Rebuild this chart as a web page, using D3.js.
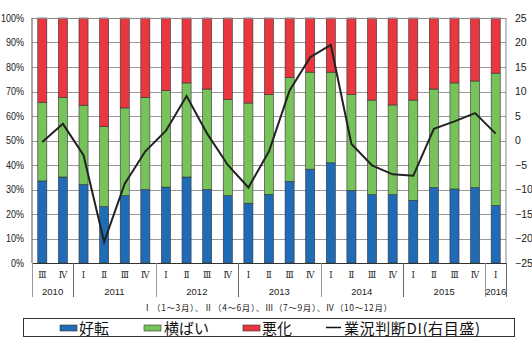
<!DOCTYPE html>
<html><head><meta charset="utf-8">
<script src="https://cdn.jsdelivr.net/npm/d3@7"></script>
<style>
html,body{margin:0;padding:0;background:#fff;}
svg{display:block;}
</style>
</head><body>
<svg id="chart" width="532" height="350"></svg>
<script>
// ---- data ----
const quarters = ["Ⅲ","Ⅳ","Ⅰ","Ⅱ","Ⅲ","Ⅳ","Ⅰ","Ⅱ","Ⅲ","Ⅳ","Ⅰ","Ⅱ","Ⅲ","Ⅳ","Ⅰ","Ⅱ","Ⅲ","Ⅳ","Ⅰ","Ⅱ","Ⅲ","Ⅳ","Ⅰ"];
const yearLabels = ["2010","2011","2012","2013","2014","2015","2016"];
const yearCounts = [2,4,4,4,4,4,1];
const improved = [33.5,35.1,32.0,23.0,27.5,30.0,31.0,35.1,30.0,27.5,24.4,28.0,33.3,38.3,40.9,29.6,27.9,27.9,25.6,30.8,30.2,30.8,23.5];
const flat     = [32.1,32.5,32.4,32.7,35.8,37.6,39.4,38.4,41.0,39.3,40.9,40.8,42.4,39.6,37.0,39.2,38.6,36.6,40.9,40.2,43.3,43.5,54.0];
const worse    = improved.map((v,i)=> +(100 - v - flat[i]).toFixed(1));
const di       = [-0.3,3.4,-3.0,-20.7,-8.8,-2.2,2.0,9.1,1.4,-5.0,-9.6,-2.2,10.2,17.0,19.5,-0.7,-5.1,-6.9,-7.2,2.4,3.9,5.6,1.4];
const leftTicks = [0,10,20,30,40,50,60,70,80,90,100];
const rightTicks = [-25,-20,-15,-10,-5,0,5,10,15,20,25];
const seriesNames = ["好転","横ばい","悪化"];
const lineName = "業況判断DI(右目盛)";
const noteText = "Ⅰ（1～3月）、Ⅱ（4～6月）、Ⅲ（7～9月）、Ⅳ（10～12月）";
const colors = ["#1f6bb6","#78c25c","#e8373f"];

// ---- layout ----
const L = 32, R = 506, T = 18, B = 263;
const svg = d3.select("#chart");
const idx = d3.range(quarters.length);
const x = d3.scaleBand().domain(idx).range([L, R]).paddingInner(0.56).paddingOuter(0.28);
const step = x.step();
const yL = d3.scaleLinear().domain([0,100]).range([B, T]);
const yR = d3.scaleLinear().domain([-25,25]).range([B, T]);
const numFont = "'Liberation Sans', Arial, sans-serif";
const cjk = "'Noto Sans CJK JP', 'Noto Sans CJK SC', sans-serif";

// gridlines
svg.append("g").selectAll("line").data(leftTicks.filter(d=>d>0)).join("line")
  .attr("x1", L).attr("x2", R)
  .attr("y1", d=>Math.round(yL(d))+0.5).attr("y2", d=>Math.round(yL(d))+0.5)
  .attr("stroke", "#9a9a9a").attr("stroke-width", 1);

// bars
const stackData = idx.map(i => ({i, a: improved[i], b: flat[i], c: worse[i]}));
const stack = d3.stack().keys(["a","b","c"])(stackData);
svg.append("g").selectAll("g").data(stack).join("g")
  .attr("fill", (d,k)=>colors[k])
  .selectAll("rect").data(d=>d).join("rect")
  .attr("x", d=>x(d.data.i))
  .attr("width", x.bandwidth())
  .attr("y", d=>yL(d[1]))
  .attr("height", d=>yL(d[0]) - yL(d[1]))
  .attr("stroke", "#333").attr("stroke-width", 0.6);

// frame
svg.append("line").attr("x1", L).attr("x2", L).attr("y1", T).attr("y2", B).attr("stroke", "#555");
svg.append("line").attr("x1", R).attr("x2", R).attr("y1", T).attr("y2", B).attr("stroke", "#888");
svg.append("line").attr("x1", L).attr("x2", R).attr("y1", T+0.5).attr("y2", T+0.5).attr("stroke", "#888");
svg.append("line").attr("x1", L).attr("x2", R).attr("y1", B+0.5).attr("y2", B+0.5).attr("stroke", "#333");

// DI line
const line = d3.line().x((d,i)=>x(i)+x.bandwidth()/2).y(d=>yR(d));
svg.append("path").datum(di).attr("d", line)
  .attr("fill","none").attr("stroke","#222").attr("stroke-width",2).attr("stroke-linejoin","miter");

// left axis labels (slightly condensed to fit, like the reference)
const leftAxis = d3.axisLeft(yL).tickValues(leftTicks).tickFormat(d=>d+"%").tickSize(0).tickPadding(0);
const gl = svg.append("g").attr("transform", `translate(${L-8},0)`).call(leftAxis);
gl.select(".domain").remove();
gl.selectAll("text").attr("font-family", numFont).attr("font-size", 10.5).attr("fill","#222")
  .attr("x", 0).attr("transform", "scale(0.86,1)");

// right axis labels
const rightAxis = d3.axisRight(yR).tickValues(rightTicks).tickFormat(d=> d<0 ? "−"+Math.abs(d) : ""+d).tickSize(0).tickPadding(0);
const gr = svg.append("g").attr("transform", `translate(${R+9},0)`).call(rightAxis);
gr.select(".domain").remove();
gr.selectAll("text").attr("font-family", numFont).attr("font-size", 10.5).attr("fill","#222");

// x axis: quarters
svg.append("g").selectAll("text").data(idx).join("text")
  .attr("x", i=>x(i)+x.bandwidth()/2).attr("y", 278)
  .attr("text-anchor","middle")
  .attr("font-family","'DejaVu Serif', 'Liberation Serif', serif").attr("font-size", 8.5).attr("fill","#222")
  .text(i=>quarters[i]);

// year dividers and labels
let starts = [0];
yearCounts.forEach((c,k)=>starts.push(starts[k]+c));
const divX = starts.map(s => s < quarters.length ? x(s) - (step - x.bandwidth())/2 : R);
svg.append("g").selectAll("line").data(divX).join("line")
  .attr("x1", d=>Math.round(d)+0.5).attr("x2", d=>Math.round(d)+0.5)
  .attr("y1", B).attr("y2", 297).attr("stroke", (d,k)=> k%2 ? "#666":"#999").attr("stroke-width",1);
svg.append("g").selectAll("text").data(yearLabels).join("text")
  .attr("x", (d,k)=>(divX[k]+divX[k+1])/2).attr("y", 295)
  .attr("text-anchor","middle").attr("font-family", numFont).attr("font-size", 9.5).attr("fill","#222")
  .text(d=>d);

// note
svg.append("text").attr("x", 143).attr("y", 311).attr("font-family", cjk).attr("font-size", 8.5).attr("fill","#222")
  .attr("textLength", 249).attr("lengthAdjust", "spacing")
  .text(noteText);

// legend
const lg = svg.append("g");
lg.append("rect").attr("x", 23.5).attr("y", 318.5).attr("width", 491).attr("height", 18)
  .attr("fill","#fff").attr("stroke","#333").attr("stroke-width",1);
const swX = [60, 144, 243];
const txX = [79, 164, 262];
seriesNames.forEach((n,k)=>{
  lg.append("rect").attr("x", swX[k]).attr("y", 325).attr("width", 17).attr("height", 6)
    .attr("fill", colors[k]).attr("stroke","#333").attr("stroke-width",0.6);
  lg.append("text").attr("x", txX[k]).attr("y", 333.5).attr("font-family", cjk).attr("font-size", 15).attr("fill","#111").text(n);
});
lg.append("line").attr("x1", 326).attr("x2", 341).attr("y1", 327.5).attr("y2", 327.5).attr("stroke","#111").attr("stroke-width",1.5);
lg.append("text").attr("x", 344).attr("y", 333.5).attr("font-family", cjk).attr("font-size", 15).attr("fill","#111")
  .attr("textLength", 136).attr("lengthAdjust", "spacing").text(lineName);
</script>
</body></html>
